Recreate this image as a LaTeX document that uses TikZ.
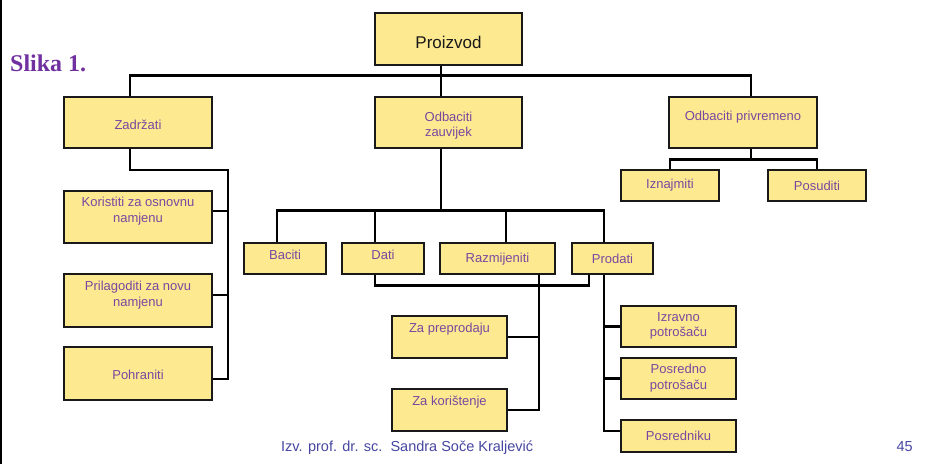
\documentclass[tikz,border=0pt]{standalone}
\usepackage{fontspec}
\setmainfont{Liberation Sans}
\newfontfamily\slikafont{Liberation Serif}
\definecolor{boxfill}{HTML}{FDE98F}
\definecolor{txtpurple}{HTML}{7B47A0}
\definecolor{slikapurple}{HTML}{7030A0}
\definecolor{footblue}{HTML}{4646A0}
\begin{document}
\begin{tikzpicture}[x=1pt,y=-1pt,
  boxst/.style={draw=black!90, line width=1.2pt, fill=boxfill, inner sep=0pt},
  txt/.style={text=txtpurple, font=\fontsize{13}{15.5}\selectfont, align=center, inner sep=0pt},
  conn/.style={line width=2.3pt, draw=black}]
\useasboundingbox (0,0) rectangle (945,464);
% left page edge
\draw[line width=2.5pt] (1.2,0) -- (1.2,464);
% title
\node[anchor=base west, inner sep=0pt, text=slikapurple, font=\slikafont\bfseries\fontsize{24}{28}\selectfont] (slika) at (10,71) {Slika 1.};
% boxes
\node[boxst, minimum width=147pt, minimum height=52pt] (pro) at (448.5,39) {};
\node[boxst, minimum width=148pt, minimum height=51pt] (zad) at (138,122.5) {};
\node[boxst, minimum width=147pt, minimum height=51pt] (zau) at (448.5,122.5) {};
\node[boxst, minimum width=148pt, minimum height=51pt] (pri) at (743,122.5) {};
\node[boxst, minimum width=98pt, minimum height=31pt] (izn) at (670,185.5) {};
\node[boxst, minimum width=98pt, minimum height=31pt] (pos) at (817,185.5) {};
\node[boxst, minimum width=148pt, minimum height=52pt] (kor) at (138,217) {};
\node[boxst, minimum width=148pt, minimum height=53pt] (pril) at (138,300.5) {};
\node[boxst, minimum width=148pt, minimum height=53pt] (poh) at (138,373.5) {};
\node[boxst, minimum width=82pt, minimum height=31pt] (bac) at (285,258.5) {};
\node[boxst, minimum width=82pt, minimum height=31pt] (dat) at (383,258.5) {};
\node[boxst, minimum width=115pt, minimum height=31pt] (raz) at (497.5,258.5) {};
\node[boxst, minimum width=81pt, minimum height=31pt] (prod) at (612.5,258.5) {};
\node[boxst, minimum width=115pt, minimum height=42pt] (zap) at (449.5,337) {};
\node[boxst, minimum width=115pt, minimum height=42pt] (zak) at (449.5,410) {};
\node[boxst, minimum width=115pt, minimum height=41pt] (izr) at (678.5,326.5) {};
\node[boxst, minimum width=115pt, minimum height=41pt] (psr) at (678.5,378.5) {};
\node[boxst, minimum width=115pt, minimum height=32pt] (psk) at (678.5,436) {};
% texts
\node[txt, text=black!90, font=\fontsize{17}{20}\selectfont] (pro-t) at (448.5,42) {Proizvod};
\node[txt] (zad-t) at (138,124.5) {Zadržati};
\node[txt] (zau-t) at (448.5,125.5) {Odbaciti\\zauvijek};
\node[txt] (pri-t) at (743,117.5) {Odbaciti privremeno};
\node[txt] (izn-t) at (670,185.5) {Iznajmiti};
\node[txt] (pos-t) at (817,185.5) {Posuditi};
\node[txt] (kor-t) at (138,211) {Koristiti za osnovnu\\namjenu};
\node[txt] (pril-t) at (138,295) {Prilagoditi za novu\\namjenu};
\node[txt] (poh-t) at (138,375) {Pohraniti};
\node[txt] (bac-t) at (285,255) {Baciti};
\node[txt] (dat-t) at (383,255) {Dati};
\node[txt] (raz-t) at (497.5,259) {Razmijeniti};
\node[txt] (prod-t) at (612.5,259) {Prodati};
\node[txt] (zap-t) at (449.5,329) {Za preprodaju};
\node[txt] (zak-t) at (449.5,402) {Za korištenje};
\node[txt] (izr-t) at (678.5,326) {Izravno\\potrošaču};
\node[txt] (psr-t) at (678.5,378) {Posredno\\potrošaču};
\node[txt] (psk-t) at (678.5,436) {Posredniku};
% footer
\node[anchor=base west, inner sep=0pt, text=footblue, font=\fontsize{14.5}{17}\selectfont] (foot) at (281,451) {Izv. prof. dr. sc.\ \ Sandra Soče Kraljević};
\node[anchor=base east, inner sep=0pt, text=footblue, font=\fontsize{14.5}{17}\selectfont] (page) at (913,451) {45};
% connectors
\coordinate (zr) at (228,170);
\draw[conn] ([xshift=-7.5pt]pro.south) -- ([xshift=-7.5pt]zau.north);
\draw[conn] ([xshift=-8pt]zad.north) -- ++(0,-21) -| ([xshift=8pt]pri.north);
\draw[conn] ([xshift=-8pt]zad.south) |- (zr) |- ([yshift=-5.5pt]poh.east);
\draw[conn] ([yshift=6pt]kor.east) -- ++(16,0);
\draw[conn] ([yshift=5.5pt]pril.east) -- ++(16,0);
\draw[conn] ([xshift=8pt]pri.south) -- ++(0,12);
\draw[conn] (izn.north) -- ++(0,-10) -| (pos.north);
\draw[conn] ([xshift=-7.5pt]zau.south) -- ++(0,63);
\draw[conn] ([xshift=-8pt]bac.north) -- ++(0,-32) -| ([xshift=-8.5pt]prod.north);
\draw[conn] ([xshift=-8pt]dat.north) -- ++(0,-32);
\draw[conn] ([xshift=8.5pt]raz.north) -- ++(0,-32);
\draw[conn] ([xshift=-8pt]dat.south) -- ++(0,11) -| ([xshift=-23.5pt]prod.south);
\draw[conn] ([xshift=41.5pt]raz.south) |- (zak.east);
\draw[conn] (zap.east) -- ++(32,0);
\draw[conn] ([xshift=-8.5pt]prod.south) |- ([yshift=5pt]psk.west);
\draw[conn] (izr.west) -- ++(-17,0);
\draw[conn] (psr.west) -- ++(-17,0);
\end{tikzpicture}
\end{document}
